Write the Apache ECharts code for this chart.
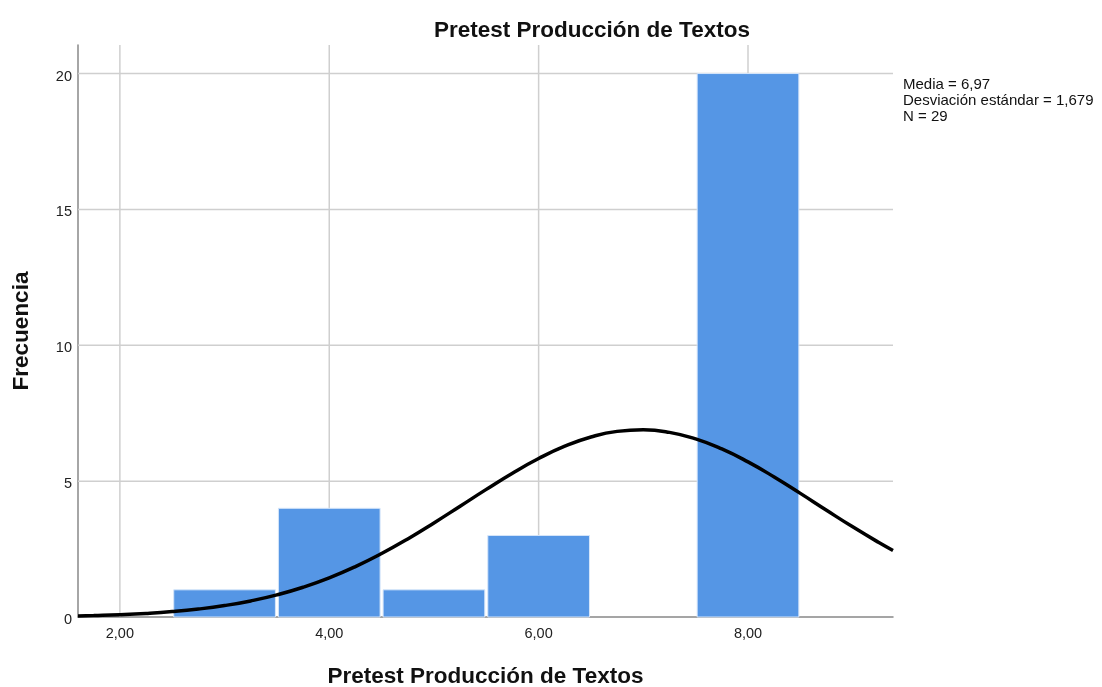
<!DOCTYPE html>
<html><head><meta charset="utf-8">
<script src="https://cdn.jsdelivr.net/npm/echarts@6/dist/echarts.min.js"></script>
<style>html,body{margin:0;padding:0;background:#fff}#c{width:1102px;height:687px}</style>
</head><body><div id="c"></div>
<script>
// Histogram bins: [start, end, frequency]
var binStarts = [2.5, 3.5, 4.5, 5.5, 6.5, 7.5];
var binEnds   = [3.5, 4.5, 5.5, 6.5, 7.5, 8.5];
var binFreq   = [1, 4, 1, 3, 0, 20];
// Normal curve points
var curveX = [1.6, 1.75, 2.0, 2.25, 2.5, 2.75, 3.0, 3.25, 3.5, 3.75, 4.0, 4.25, 4.5, 4.75, 5.0, 5.25, 5.5, 5.75, 6.0, 6.25, 6.5, 6.75, 7.0, 7.25, 7.5, 7.75, 8.0, 8.25, 8.5, 8.75, 9.0, 9.25, 9.385];
var curveY = [0.04, 0.055, 0.086, 0.132, 0.199, 0.293, 0.421, 0.592, 0.814, 1.096, 1.441, 1.855, 2.335, 2.874, 3.462, 4.077, 4.696, 5.292, 5.831, 6.285, 6.625, 6.831, 6.889, 6.795, 6.555, 6.185, 5.708, 5.152, 4.549, 3.928, 3.318, 2.740, 2.449];
var xTicks = [2, 4, 6, 8];
var yTicks = [0, 5, 10, 15, 20];
var statsLines = ['Media = 6,97', 'Desviación estándar = 1,679', 'N = 29'];

var chart = echarts.init(document.getElementById('c'));
var barData = binStarts.map(function(s, i){ return [s, binEnds[i], binFreq[i]]; });
var lineData = curveX.map(function(x, i){ return [x, curveY[i]]; });
var font = '"Liberation Sans", Arial, sans-serif';
var YMAX = 21.05, XMIN = 1.6, XMAX = 9.385;

chart.setOption({
  animation: false,
  textStyle: {fontFamily: font},
  title: {
    text: 'Pretest Producción de Textos',
    left: 587, top: 14, textAlign: 'center',
    textStyle: {fontSize: 22.5, fontWeight: 'bold', color: '#111', fontFamily: font}
  },
  grid: {left: 78, right: 209, top: 45, bottom: 70, containLabel: false, outerBoundsMode: 'none'},
  xAxis: {
    type: 'value', min: XMIN, max: XMAX,
    name: 'Pretest Producción de Textos', nameLocation: 'middle', nameGap: 48,
    nameTextStyle: {fontSize: 22.5, fontWeight: 'bold', color: '#111', fontFamily: font},
    axisLine: {show: true, lineStyle: {color: '#888', width: 1.5}},
    axisTick: {show: false},
    splitLine: {show: false},
    axisLabel: {show: false}
  },
  yAxis: {
    type: 'value', min: 0, max: YMAX, interval: 5,
    name: 'Frecuencia', nameLocation: 'middle', nameGap: 45, nameRotate: 90,
    nameTextStyle: {fontSize: 22.5, fontWeight: 'bold', color: '#111', fontFamily: font},
    axisLine: {show: true, lineStyle: {color: '#888', width: 1.5}},
    axisTick: {show: false},
    splitLine: {show: false},
    axisLabel: {show: false}
  },
  graphic: [{
    type: 'text', left: 903, top: 77,
    style: {text: statsLines.join('\n'), font: '15px ' + font, fill: '#111', lineHeight: 16}
  }],
  series: [
    {
      type: 'custom', silent: true, z: 1,
      renderItem: function(params, api){
        var els = [];
        xTicks.forEach(function(t){
          var p1 = api.coord([t, 0]);
          var p0 = api.coord([t, YMAX]);
          els.push({type: 'line', shape: {x1: p0[0], y1: p0[1], x2: p1[0], y2: p1[1]},
            style: {stroke: '#cfcfcf', lineWidth: 1.5}});
          els.push({type: 'text', style: {text: t.toFixed(2).replace('.', ','), x: p1[0], y: p1[1] + 9,
            textAlign: 'center', textVerticalAlign: 'top', font: '14.5px ' + font, fill: '#222'}});
        });
        yTicks.forEach(function(t){
          var q0 = api.coord([XMIN, t]);
          var q1 = api.coord([XMAX, t]);
          if (t > 0) {
            els.push({type: 'line', shape: {x1: q0[0], y1: q0[1], x2: q1[0], y2: q1[1]},
              style: {stroke: '#cfcfcf', lineWidth: 1.5}});
          }
          els.push({type: 'text', style: {text: String(t), x: q0[0] - 6, y: q0[1] + 3,
            textAlign: 'right', textVerticalAlign: 'middle', font: '14.5px ' + font, fill: '#222'}});
        });
        return {type: 'group', children: els};
      },
      data: [[0]]
    },
    {
      type: 'custom', z: 2,
      renderItem: function(params, api){
        var s = api.value(0), e = api.value(1), f = api.value(2);
        if (f <= 0) return null;
        var p0 = api.coord([s, f]);
        var p1 = api.coord([e, 0]);
        return {type: 'rect',
          shape: {x: p0[0] + 1.5, y: p0[1], width: p1[0] - p0[0] - 3, height: p1[1] - p0[1]},
          style: {fill: '#5596e5', stroke: '#d6e6fa', lineWidth: 1}};
      },
      encode: {x: [0, 1], y: 2},
      data: barData
    },
    {
      type: 'line', z: 3, smooth: true, symbol: 'none',
      lineStyle: {color: '#000', width: 3.5},
      data: lineData
    }
  ]
});
</script></body></html>
